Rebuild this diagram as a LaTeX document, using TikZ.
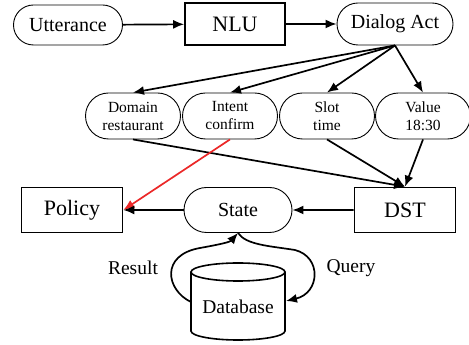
\documentclass[tikz,border=0pt]{standalone}
\usepackage{fontspec}
\setmainfont{Liberation Serif}
\usetikzlibrary{shapes.misc,arrows.meta}
\definecolor{arrred}{RGB}{235,40,40}
\tikzset{
  pill/.style={rounded rectangle, draw, line width=0.9pt, inner sep=2pt, font=\fontsize{20}{22}\selectfont},
  smallpill/.style={rounded rectangle, draw, line width=0.9pt, minimum width=97pt, minimum height=46pt, inner sep=1pt, align=center, font=\fontsize{15.5}{18}\selectfont},
  box/.style={rectangle, draw, line width=1.7pt, font=\fontsize{22}{24}\selectfont},
  arr/.style={line width=1.7pt, -{Latex[length=11pt,width=9pt]}},
  lbl/.style={font=\fontsize{19.5}{22}\selectfont}
}
\begin{document}
\begin{tikzpicture}[x=1pt,y=1pt]
\useasboundingbox (0,0) rectangle (469,345);
\node[pill, minimum width=113pt, minimum height=40pt] (utt) at (68,320) {Utterance};
\node[box, minimum width=100pt, minimum height=42pt] (nlu) at (235,321) {NLU};
\node[pill, minimum width=120pt, minimum height=42pt] (da) at (395,321) {Dialog Act};
\node[smallpill] (dom) at (133,229) {Domain\\restaurant};
\node[smallpill] (int) at (230,229) {Intent\\confirm};
\node[smallpill] (slot) at (327,229) {Slot\\time};
\node[smallpill] (val) at (423,229) {Value\\18:30};
\node[box, minimum width=101pt, minimum height=45pt] (pol) at (72,135) {Policy};
\node[pill, minimum width=112pt, minimum height=45pt] (st) at (238,135) {State};
\node[box, minimum width=101pt, minimum height=45pt] (dst) at (405,135) {DST};
% database cylinder
\draw[line width=1.6pt] (191,73) -- (191,14) arc[start angle=180,end angle=360,x radius=47,y radius=9] -- (285,73);
\draw[line width=1.6pt] (238,73) ellipse[x radius=47,y radius=9];
\node[lbl] (db) at (238,38) {Database};
\coordinate (dbl) at (191,43);
\coordinate (dbr) at (286,44);
\node[lbl] (res) at (133,77) {Result};
\node[lbl] (qry) at (351,77) {Query};
% arrows
\draw[arr] (utt) -- (nlu);
\draw[arr] (nlu) -- (da);
\draw[arr] (da.south) -- (dom.north);
\draw[arr] (da.south) -- (int.north);
\draw[arr] (da.south) -- (slot.north);
\draw[arr] (da.south) -- (val.north);
\draw[arr] (dom.south) -- (dst.north);
\draw[arr] (slot.south) -- (dst.north);
\draw[arr] (val.south) -- (dst.north);
\draw[arr, draw=arrred, fill=arrred] (int.south) -- (pol.east);
\draw[arr] (dst) -- (st);
\draw[arr] (st) -- (pol);
\draw[arr] (dbl) .. controls (166,55) and (160,90) .. (200,97)
                 .. controls (222,101) and (230,103) .. (st.south);
\draw[arr] (st.south) .. controls (246,100) and (270,99) .. (295,95)
                 .. controls (322,88) and (320,52) .. (dbr);
\end{tikzpicture}
\end{document}
